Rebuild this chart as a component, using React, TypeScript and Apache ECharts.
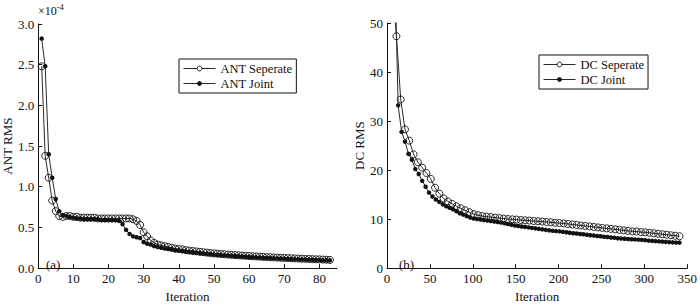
import React, { useEffect, useRef } from "react";
import * as echarts from "echarts";

const FONT = "Liberation Serif";

// ---- Panel (a): ANT RMS (×10^-4) ----
const antIter = [
  1, 2, 3, 4, 5, 6, 7, 8, 9, 10, 11, 12, 13, 14, 15, 16, 17, 18, 19, 20,
  21, 22, 23, 24, 25, 26, 27, 28, 29, 30, 31, 32, 33, 34, 35, 36, 37, 38, 39, 40,
  41, 42, 43, 44, 45, 46, 47, 48, 49, 50, 51, 52, 53, 54, 55, 56, 57, 58, 59, 60,
  61, 62, 63, 64, 65, 66, 67, 68, 69, 70, 71, 72, 73, 74, 75, 76, 77, 78, 79, 80,
  81, 82, 83,
];
const antSeperate = [
  2.48, 1.38, 1.11, 0.83, 0.70, 0.64, 0.63, 0.64, 0.64, 0.63, 0.63, 0.62, 0.62, 0.62, 0.62, 0.62, 0.61, 0.61, 0.61, 0.61,
  0.61, 0.61, 0.61, 0.61, 0.61, 0.61, 0.60, 0.58, 0.53, 0.44, 0.39, 0.34, 0.31, 0.29, 0.28, 0.27, 0.26, 0.25, 0.24, 0.235,
  0.23, 0.22, 0.215, 0.21, 0.205, 0.20, 0.195, 0.19, 0.185, 0.18, 0.177, 0.173, 0.17, 0.166, 0.163, 0.16, 0.157, 0.154, 0.151, 0.148,
  0.145, 0.143, 0.14, 0.138, 0.135, 0.133, 0.131, 0.129, 0.127, 0.125, 0.123, 0.121, 0.119, 0.117, 0.115, 0.113, 0.112, 0.11, 0.108, 0.107,
  0.105, 0.103, 0.10,
];
const antJoint = [
  2.82, 2.48, 1.40, 1.11, 0.85, 0.70, 0.65, 0.64, 0.63, 0.62, 0.61, 0.61, 0.60, 0.60, 0.60, 0.60, 0.60, 0.59, 0.59, 0.59,
  0.59, 0.59, 0.58, 0.54, 0.47, 0.42, 0.39, 0.38, 0.37, 0.32, 0.30, 0.29, 0.27, 0.26, 0.25, 0.24, 0.235, 0.23, 0.22, 0.215,
  0.21, 0.205, 0.20, 0.195, 0.19, 0.185, 0.18, 0.176, 0.172, 0.168, 0.164, 0.16, 0.157, 0.154, 0.151, 0.148, 0.145, 0.142, 0.14, 0.137,
  0.135, 0.132, 0.13, 0.128, 0.126, 0.124, 0.122, 0.12, 0.118, 0.116, 0.114, 0.112, 0.11, 0.109, 0.107, 0.105, 0.104, 0.102, 0.10, 0.099,
  0.097, 0.096, 0.095,
];
const antXTicks = [0, 10, 20, 30, 40, 50, 60, 70, 80];

// ---- Panel (b): DC RMS ----
const dcSepIter = [
  1, 6, 11, 16, 21, 26, 31, 36, 41, 46, 51, 56, 61, 66, 71, 76, 81, 86, 91, 96,
  101, 106, 111, 116, 121, 126, 131, 136, 141, 146, 151, 156, 161, 166, 171, 176, 181, 186, 191, 196,
  201, 206, 211, 216, 221, 226, 231, 236, 241, 246, 251, 256, 261, 266, 271, 276, 281, 286, 291, 296,
  301, 306, 311, 316, 321, 326, 331, 336, 341,
];
const dcSeperate = [
  110, 58, 47.3, 34.4, 28.3, 26.0, 23.2, 21.6, 20.5, 19.4, 18.2, 16.4, 15.2, 14.2, 13.6, 13.1, 12.6, 12.2, 11.8, 11.4,
  11.0, 10.8, 10.6, 10.5, 10.4, 10.3, 10.2, 10.1, 10.0, 9.95, 9.9, 9.8, 9.75, 9.7, 9.6, 9.55, 9.5, 9.4, 9.35, 9.25,
  9.2, 9.1, 9.0, 8.9, 8.8, 8.7, 8.6, 8.5, 8.4, 8.3, 8.2, 8.1, 8.0, 7.9, 7.8, 7.7, 7.6, 7.5, 7.45, 7.35,
  7.3, 7.2, 7.1, 7.0, 6.9, 6.8, 6.7, 6.6, 6.5,
];
const dcJointIter = [
  1, 5, 9, 13, 17, 21, 25, 29, 33, 37, 41, 45, 49, 53, 57, 61, 65, 69, 73, 77,
  81, 85, 89, 93, 97, 101, 105, 109, 113, 117, 121, 125, 129, 133, 137, 141, 145, 149, 153, 157,
  161, 165, 169, 173, 177, 181, 185, 189, 193, 197, 201, 205, 209, 213, 217, 221, 225, 229, 233, 237,
  241, 245, 249, 253, 257, 261, 265, 269, 273, 277, 281, 285, 289, 293, 297, 301, 305, 309, 313, 317,
  321, 325, 329, 333, 337, 341,
];
const dcJoint = [
  130, 90, 62, 33.2, 27.8, 25.8, 23.3, 22.1, 20.2, 19.2, 17.8, 16.6, 15.4, 14.6, 14.0, 13.5, 13.0, 12.6, 12.3, 12.0,
  11.6, 11.2, 10.9, 10.6, 10.3, 10.1, 10.0, 9.9, 9.8, 9.7, 9.6, 9.5, 9.4, 9.3, 9.15, 9.0, 8.85, 8.7, 8.6, 8.5,
  8.4, 8.3, 8.2, 8.1, 8.0, 7.9, 7.8, 7.7, 7.6, 7.55, 7.5, 7.4, 7.3, 7.2, 7.1, 7.05, 6.95, 6.9, 6.8, 6.7,
  6.65, 6.55, 6.5, 6.4, 6.35, 6.25, 6.2, 6.1, 6.05, 6.0, 5.95, 5.9, 5.85, 5.8, 5.75, 5.7, 5.6, 5.55, 5.5, 5.45,
  5.4, 5.35, 5.3, 5.25, 5.2, 5.2,
];

const seriesNames = ["ANT Seperate", "ANT Joint", "DC Seperate", "DC Joint"];

const INK = "#111";
const LINE = "#2a2a2a";

function pairs(xs: number[], ys: number[]) {
  return xs.map((x, i) => [x, ys[i]]);
}

function sepSeries(name: string, idx: number, data: number[][]) {
  return {
    name,
    type: "line",
    xAxisIndex: idx,
    yAxisIndex: idx,
    data,
    symbol: "circle",
    symbolSize: 7,
    showAllSymbol: true,
    lineStyle: { color: LINE, width: 1 },
    itemStyle: { color: "rgba(255,255,255,0)", borderColor: INK, borderWidth: 0.9 },
    clip: true,
    z: 2,
  };
}
function jointSeries(name: string, idx: number, data: number[][]) {
  return {
    name,
    type: "line",
    xAxisIndex: idx,
    yAxisIndex: idx,
    data,
    symbol: "circle",
    symbolSize: 4.5,
    showAllSymbol: true,
    lineStyle: { color: LINE, width: 1 },
    itemStyle: { color: INK, borderWidth: 0 },
    clip: true,
    z: 3,
  };
}

const axisCommon = {
  axisLine: { show: true, lineStyle: { color: INK, width: 1 } },
  axisTick: { show: true, inside: true, length: 4, lineStyle: { color: INK } },
  splitLine: { show: false },
  axisLabel: { color: INK, fontFamily: FONT, fontSize: 13, margin: 4 },
  nameTextStyle: { color: INK, fontFamily: FONT, fontSize: 13 },
};

const sepLegendStyle = { color: "#fff", borderColor: INK, borderWidth: 1 };
const jointLegendStyle = { color: INK, borderColor: INK, borderWidth: 0 };

export default function App() {
  const ref = useRef<HTMLDivElement>(null);
  useEffect(() => {
    if (!ref.current) return;
    const chart = echarts.init(ref.current, undefined, { renderer: "svg" });
    const legendCommon = {
      orient: "vertical",
      borderColor: INK,
      borderWidth: 1,
      borderRadius: 0,
      backgroundColor: "#fff",
      padding: [3, 4, 3, 4],
      itemGap: 2,
      itemWidth: 32,
      itemHeight: 6,
      lineStyle: { color: LINE, width: 1 },
      textStyle: { color: INK, fontFamily: FONT, fontSize: 12.5 },
    };
    chart.setOption({
      animation: false,
      backgroundColor: "#fff",
      textStyle: { fontFamily: FONT },
      grid: [
        { left: 36, top: 24, width: 301, height: 254 },
        { left: 387, top: 23, width: 302, height: 255 },
      ],
      xAxis: [
        {
          ...axisCommon,
          type: "value",
          gridIndex: 0,
          min: 0,
          max: 85,
          interval: 10,
          name: "Iteration",
          nameLocation: "middle",
          nameGap: 15,
          axisTick: { ...axisCommon.axisTick, customValues: antXTicks },
          axisLabel: { ...axisCommon.axisLabel, customValues: antXTicks },
        },
        {
          ...axisCommon,
          type: "value",
          gridIndex: 1,
          min: 0,
          max: 350,
          interval: 50,
          name: "Iteration",
          nameLocation: "middle",
          nameGap: 15,
        },
      ],
      yAxis: [
        {
          ...axisCommon,
          type: "value",
          gridIndex: 0,
          min: 0,
          max: 3,
          interval: 0.5,
          name: "ANT RMS",
          nameLocation: "middle",
          nameGap: 17,
          axisLabel: { ...axisCommon.axisLabel, formatter: (v: number) => v.toFixed(1) },
        },
        {
          ...axisCommon,
          type: "value",
          gridIndex: 1,
          min: 0,
          max: 50,
          interval: 10,
          name: "DC RMS",
          nameLocation: "middle",
          nameGap: 19,
        },
      ],
      legend: [
        {
          ...legendCommon,
          data: [
            { name: seriesNames[0], itemStyle: sepLegendStyle },
            { name: seriesNames[1], itemStyle: jointLegendStyle },
          ],
          left: 179,
          top: 59,
        },
        {
          ...legendCommon,
          data: [
            { name: seriesNames[2], itemStyle: sepLegendStyle },
            { name: seriesNames[3], itemStyle: jointLegendStyle },
          ],
          left: 539,
          top: 55,
        },
      ],
      graphic: [
        {
          type: "text",
          left: 38,
          top: 2,
          style: {
            text: "{a|×10}{b|-4}",
            rich: {
              a: { fontFamily: FONT, fontSize: 12, fill: INK, verticalAlign: "bottom" },
              b: { fontFamily: FONT, fontSize: 8.5, fill: INK, verticalAlign: "top", padding: [0, 0, 6, 0] },
            },
          },
        },
        { type: "text", left: 46, top: 258, style: { text: "(a)", fontFamily: FONT, fontSize: 13, fill: INK } },
        { type: "text", left: 399, top: 258, style: { text: "(b)", fontFamily: FONT, fontSize: 13, fill: INK } },
      ],
      series: [
        sepSeries(seriesNames[0], 0, pairs(antIter, antSeperate)),
        jointSeries(seriesNames[1], 0, pairs(antIter, antJoint)),
        sepSeries(seriesNames[2], 1, pairs(dcSepIter, dcSeperate)),
        jointSeries(seriesNames[3], 1, pairs(dcJointIter, dcJoint)),
      ],
    });
    return () => chart.dispose();
  }, []);
  return (
    <div
      ref={ref}
      style={{ position: "fixed", left: 0, top: 0, width: 700, height: 308 }}
    />
  );
}
